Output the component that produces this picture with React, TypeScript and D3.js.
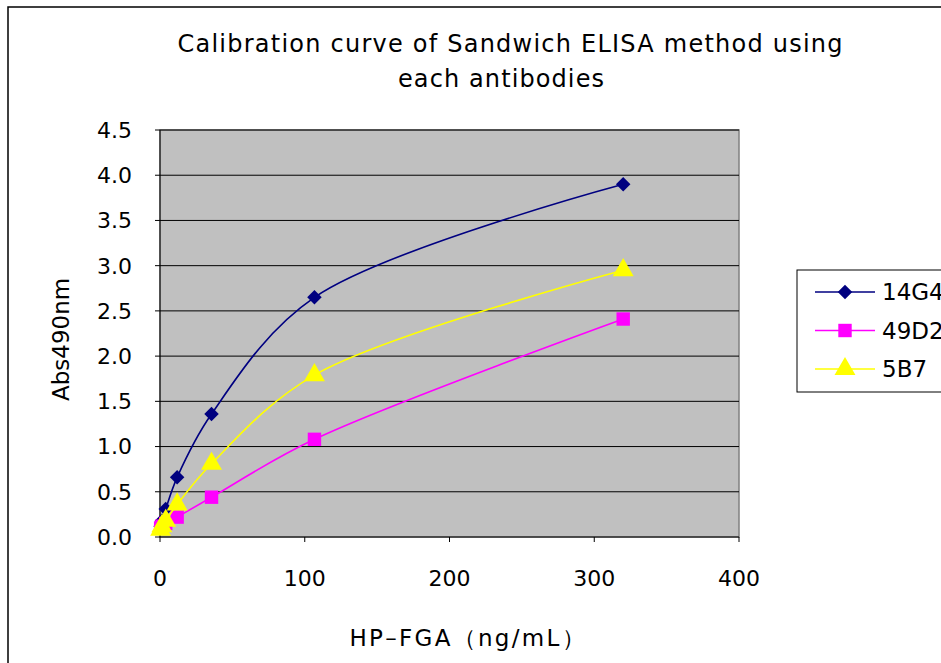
import React from 'react';
import * as d3 from 'd3';

// concentrations (ng/mL), 3-fold dilution series
const concentrations = [0.44, 1.32, 3.95, 11.85, 35.6, 106.7, 320];
const seriesNames = ['14G4', '49D2', '5B7'];
const abs14G4 = [0.12, 0.18, 0.31, 0.66, 1.36, 2.65, 3.9];
const abs49D2 = [0.1, 0.12, 0.15, 0.22, 0.44, 1.08, 2.41];
const abs5B7 = [0.08, 0.12, 0.18, 0.36, 0.81, 1.79, 2.95];
const xTicks = [0, 100, 200, 300, 400];
const yTicks = [0, 0.5, 1, 1.5, 2, 2.5, 3, 3.5, 4, 4.5];

const colors = ['#000080', '#FF00FF', '#FFFF00'];
const FONT = '"DejaVu Sans", Verdana, sans-serif';

// marker path for each series: diamond (rotated square), square, triangle
function marker(i: number) {
  if (i === 0) return { d: d3.symbol().type(d3.symbolSquare).size(105)() || '', rot: 45 };
  if (i === 1) return { d: d3.symbol().type(d3.symbolSquare).size(180)() || '', rot: 0 };
  return { d: d3.symbol().type(d3.symbolTriangle).size(190)() || '', rot: 0 };
}

export default function App() {
  const width = 941;
  const height = 663;
  const plot = { left: 160, right: 739, top: 130, bottom: 537 };

  const x = d3.scaleLinear().domain([0, 400]).range([plot.left, plot.right]);
  const y = d3.scaleLinear().domain([0, 4.5]).range([plot.bottom, plot.top]);

  const series = [abs14G4, abs49D2, abs5B7].map((vals, i) => ({
    name: seriesNames[i],
    points: vals.map((v, j) => [concentrations[j], v] as [number, number]),
  }));

  const line = d3
    .line<[number, number]>()
    .x(d => x(d[0]))
    .y(d => y(d[1]))
    .curve(d3.curveCatmullRom.alpha(0.5));

  const legend = { x: 797, y: 270, w: 160, h: 122 };

  return (
    <svg
      width={width}
      height={height}
      style={{ position: 'absolute', left: 0, top: 0, background: '#fff' }}
      fontFamily={FONT}
    >
      <defs>
        <clipPath id="ylabClip">
          <rect x={0} y={279} width={120} height={200} />
        </clipPath>
      </defs>
      {/* outer chart frame */}
      <rect x={8} y={7} width={960} height={700} fill="#fff" stroke="#000" strokeWidth={1.5} />

      {/* title */}
      <text x={510} y={52} textAnchor="middle" fontSize={24} textLength={665} lengthAdjust="spacing">
        Calibration curve of Sandwich ELISA method using
      </text>
      <text x={501} y={87} textAnchor="middle" fontSize={24} textLength={206} lengthAdjust="spacing">
        each antibodies
      </text>

      {/* plot area */}
      <rect
        x={plot.left}
        y={plot.top}
        width={plot.right - plot.left}
        height={plot.bottom - plot.top}
        fill="#C0C0C0"
        stroke="#808080"
        strokeWidth={1.5}
      />
      {yTicks.filter(t => t > 0).map(t => (
        <line key={t} x1={plot.left} x2={plot.right} y1={y(t)} y2={y(t)} stroke="#000" strokeWidth={1} />
      ))}
      <line x1={plot.left} x2={plot.left} y1={plot.top} y2={plot.bottom} stroke="#000" strokeWidth={1} />
      <line x1={plot.left} x2={plot.right} y1={plot.bottom} y2={plot.bottom} stroke="#000" strokeWidth={1} />

      {/* y tick labels */}
      {yTicks.map(t => (
        <g key={t}>
          <line x1={plot.left - 5} x2={plot.left} y1={y(t)} y2={y(t)} stroke="#000" />
          <text x={132} y={y(t)} dy="0.36em" textAnchor="end" fontSize={22}>
            {d3.format('.1f')(t)}
          </text>
        </g>
      ))}
      {/* x tick labels */}
      {xTicks.map(t => (
        <g key={t}>
          <line x1={x(t)} x2={x(t)} y1={plot.bottom} y2={plot.bottom + 5} stroke="#000" />
          <text x={x(t)} y={586} textAnchor="middle" fontSize={22}>
            {t}
          </text>
        </g>
      ))}

      {/* axis titles */}
      <g clipPath="url(#ylabClip)">
        <text transform="translate(69,401) rotate(-90)" textAnchor="start" fontSize={23}>
          Abs490nm
        </text>
      </g>
      <text x={467} y={646} textAnchor="middle" fontSize={23} textLength={235} lengthAdjust="spacing">
        HP–FGA（ng/mL）
      </text>

      {/* series */}
      {series.map((s, i) => {
        const m = marker(i);
        return (
          <g key={s.name}>
            <path d={line(s.points) || ''} fill="none" stroke={colors[i]} strokeWidth={1.6} />
            {s.points.map((p, j) => (
              <path
                key={j}
                transform={`translate(${x(p[0])},${y(p[1])}) rotate(${m.rot})`}
                d={m.d}
                fill={colors[i]}
              />
            ))}
          </g>
        );
      })}

      {/* legend */}
      <rect x={legend.x} y={legend.y} width={legend.w} height={legend.h} fill="#fff" stroke="#000" strokeWidth={1} />
      {seriesNames.map((name, i) => {
        const ly = 292 + i * 38.5;
        const m = marker(i);
        return (
          <g key={name}>
            <line x1={815} x2={875} y1={ly} y2={ly} stroke={colors[i]} strokeWidth={1.6} />
            <path transform={`translate(845,${ly}) rotate(${m.rot})`} d={m.d} fill={colors[i]} />
            <text x={882} y={ly} dy="0.36em" fontSize={23}>
              {name}
            </text>
          </g>
        );
      })}
    </svg>
  );
}
